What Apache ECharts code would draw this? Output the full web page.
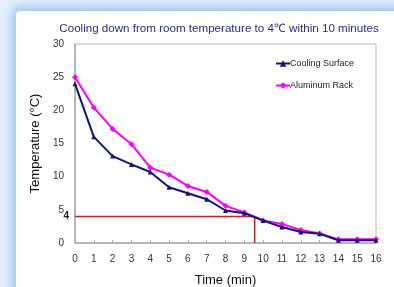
<!DOCTYPE html>
<html><head><meta charset="utf-8">
<script src="https://cdn.jsdelivr.net/npm/echarts@6/dist/echarts.min.js"></script>
<style>
html,body{margin:0;padding:0;width:394px;height:287px;overflow:hidden;background:#e4eefb;}
#panel{position:absolute;left:16px;top:11px;width:400px;height:300px;background:#fff;border-radius:4px 0 0 0;box-shadow:0 0 10px 5px #a6c7f0;}
#c{position:absolute;left:0;top:0;width:394px;height:287px;}
</style></head>
<body>
<div id="panel"></div>
<div id="c"></div>
<script>
const times = [0,1,2,3,4,5,6,7,8,9,10,11,12,13,14,15,16];
const coolingSurface = [24,16,13.1,11.85,10.7,8.4,7.5,6.6,4.9,4.5,3.4,2.4,1.65,1.4,0.4,0.4,0.4];
const aluminumRack = [25,20.4,17.2,14.9,11.35,10.3,8.6,7.7,5.6,4.6,3.4,2.85,1.95,1.45,0.55,0.55,0.55];
const targetTemp = 4;
const reachTime = 9.55;

const chart = echarts.init(document.getElementById('c'));
chart.setOption({
  backgroundColor: 'transparent',
  animation: false,
  title: {
    text: 'Cooling down from room temperature to 4℃ within 10 minutes',
    left: 214, top: 18, textAlign: 'center',
    textStyle: {fontFamily: 'Liberation Sans, Arial', fontSize: 11.6, fontWeight: 'normal', color: '#2a2a8a'}
  },
  legend: {
    orient: 'vertical', left: 270, top: 54, itemGap: 13, itemWidth: 14, itemHeight: 8,
    data: ['Cooling Surface', 'Aluminum Rack'],
    textStyle: {fontFamily: 'Liberation Sans, Arial', fontSize: 9, color: '#222', padding: [0,0,0,-5]}
  },
  grid: {left: 75, right: 18, top: 44, bottom: 44, show: true, borderColor: '#bbb', borderWidth: 1,
    containLabel: false, outerBoundsMode: 'none'},
  xAxis: {
    type: 'value', min: 0, max: 16, interval: 1,
    name: 'Time (min)', nameLocation: 'middle', nameGap: 31,
    nameTextStyle: {fontFamily: 'Liberation Sans, Arial', fontSize: 13, color: '#111'},
    axisLine: {lineStyle: {color: '#aaa', width: 1.5}},
    axisTick: {show: true, inside: true, length: 3, lineStyle: {color: '#aaa'}},
    axisLabel: {fontFamily: 'Liberation Sans, Arial', fontSize: 10, color: '#333', margin: 11},
    splitLine: {show: false}
  },
  yAxis: {
    type: 'value', min: 0, max: 30, interval: 5,
    name: 'Temperature (°C)', nameLocation: 'middle', nameGap: 30, nameRotate: 90,
    nameTextStyle: {fontFamily: 'Liberation Sans, Arial', fontSize: 13, color: '#111'},
    axisLine: {show: true, lineStyle: {color: '#aaa', width: 1.5}},
    axisTick: {show: false},
    axisLabel: {fontFamily: 'Liberation Sans, Arial', fontSize: 10, color: '#333', margin: 11},
    splitLine: {show: false}
  },
  series: [
    {
      name: 'Cooling Surface', type: 'line',
      data: times.map((t,i)=>[t, coolingSurface[i]]),
      symbol: 'triangle', symbolSize: 5, z: 4,
      lineStyle: {color: '#141478', width: 2},
      itemStyle: {color: '#141478'}
    },
    {
      name: 'Aluminum Rack', type: 'line',
      data: times.map((t,i)=>[t, aluminumRack[i]]),
      symbol: 'diamond', symbolSize: 6, z: 3,
      lineStyle: {color: '#ff00ff', width: 2},
      itemStyle: {color: '#ff00ff'}
    },
    {
      name: 'target', type: 'line', z: 2,
      data: [[0, targetTemp], [reachTime, targetTemp], [reachTime, 0]],
      symbol: 'none', silent: true,
      lineStyle: {color: '#cc2020', width: 1.5},
      label: {show: false},
      markPoint: {
        symbol: 'circle', symbolSize: 0,
        data: [{coord: [0, targetTemp], value: targetTemp}],
        label: {show: true, position: 'left', distance: 6, formatter: String(targetTemp),
          fontFamily: 'Liberation Sans, Arial', fontSize: 10, fontWeight: 'bold', color: '#222'}
      }
    }
  ]
});
</script>
</body></html>
